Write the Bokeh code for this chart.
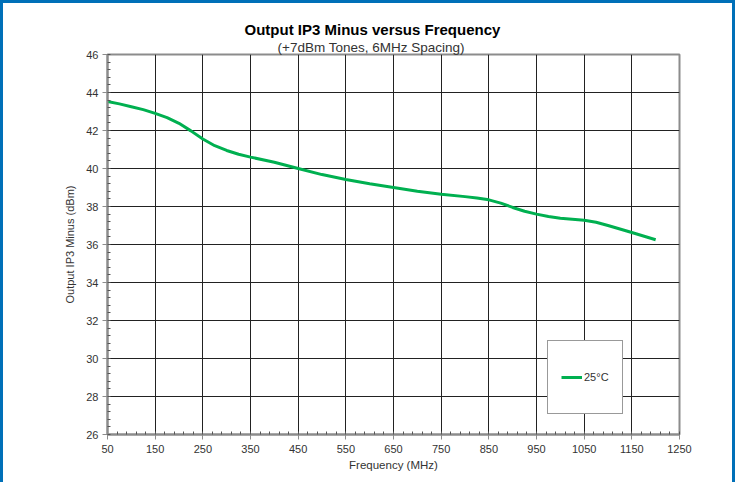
from bokeh.plotting import figure
from bokeh.models import FixedTicker, Legend, LegendItem, Range1d, Title
from bokeh.embed import file_html
from bokeh.resources import INLINE

# ---- data ----
freq_mhz = [50, 75, 100, 125, 150, 175, 200, 225, 250, 275, 300, 325, 350,
            400, 450, 500, 550, 600, 650, 700, 750, 800, 825, 850, 875, 900,
            925, 950, 975, 1000, 1025, 1050, 1075, 1100, 1150, 1200]
oip3_25c = [43.53, 43.4, 43.25, 43.1, 42.9, 42.68, 42.38, 41.98, 41.55, 41.2,
            40.95, 40.75, 40.6, 40.33, 40.0, 39.68, 39.42, 39.2, 39.0, 38.8,
            38.65, 38.52, 38.45, 38.35, 38.18, 37.95, 37.75, 37.6, 37.47, 37.38,
            37.33, 37.28, 37.17, 37.0, 36.63, 36.25]
x_ticks = [50, 150, 250, 350, 450, 550, 650, 750, 850, 950, 1050, 1150, 1250]
y_ticks = [26, 28, 30, 32, 34, 36, 38, 40, 42, 44, 46]
series_label = "25°C"
title_text = "Output IP3 Minus versus Frequency"
subtitle_text = "(+7dBm Tones, 6MHz Spacing)"
x_label = "Frequency (MHz)"
y_label = "Output IP3 Minus (dBm)"

FONT = "Liberation Sans"
W, H = 735, 482
ML, MT = 104, 51
MR = W + 3 - 679
MB = H + 3 - 434

p = figure(width=W, height=H, output_backend="svg", toolbar_location=None,
           x_range=Range1d(50, 1250), y_range=Range1d(26, 46),
           min_border_left=ML, min_border_right=MR,
           min_border_top=MT, min_border_bottom=MB)
p.styles = {"border-left": "3px solid #0070b8", "border-right": "3px solid #0070b8",
            "border-top": "3px solid #0070b8"}

p.outline_line_color = "#8c8c8c"
p.outline_line_width = 2

x_minor = [50 + 20 * i for i in range(61)]
y_minor = [26 + 0.4 * i for i in range(51)]
p.xaxis.ticker = FixedTicker(ticks=x_ticks, minor_ticks=x_minor)
p.yaxis.ticker = FixedTicker(ticks=y_ticks, minor_ticks=y_minor)

for ax in (p.xaxis[0], p.yaxis[0]):
    ax.axis_line_color = "#8c8c8c"
    ax.axis_line_width = 2
    ax.major_tick_line_color = "#8c8c8c"
    ax.major_tick_line_width = 1
    ax.major_tick_out = 5
    ax.major_tick_in = 0
    ax.minor_tick_line_color = "#555555"
    ax.minor_tick_in = 3
    ax.minor_tick_out = 0
    ax.major_label_text_font = FONT
    ax.major_label_text_font_size = "11px"
    ax.major_label_text_color = "#333333"
    ax.axis_label_text_font = FONT
    ax.axis_label_text_font_style = "normal"
    ax.axis_label_text_color = "#333333"

p.xaxis.axis_label = x_label
p.yaxis.axis_label = y_label
p.xaxis.axis_label_text_font_size = "11.5px"
p.yaxis.axis_label_text_font_size = "11px"
p.xaxis.major_label_standoff = 5
p.yaxis.major_label_standoff = 4
p.xaxis.axis_label_standoff = 3
p.yaxis.axis_label_standoff = 7

p.grid.grid_line_color = "#222222"
p.grid.grid_line_width = 1
p.grid.grid_line_alpha = 1

r = p.line(freq_mhz, oip3_25c, line_color="#00b050", line_width=3)

legend = Legend(items=[LegendItem(label=series_label, renderers=[r])],
                location=(440, 20), padding=13, label_standoff=2,
                glyph_width=21, label_height=46, glyph_height=46,
                label_text_font=FONT, label_text_font_size="11px",
                label_text_color="#333333",
                border_line_color="#333333", border_line_width=1,
                background_fill_color="white", background_fill_alpha=1,
                margin=0)
p.add_layout(legend, "center")

# invisible spacer right above the frame, then subtitle, then main title
p.add_layout(Title(text=".", text_font_size="1px", text_alpha=0, standoff=5), "above")
p.add_layout(Title(text=subtitle_text, align="left", offset=170,
                   text_font=FONT, text_font_size="13.5px", text_font_style="normal",
                   text_color="#333333", standoff=0), "above")
p.add_layout(Title(text=title_text, align="left", offset=137,
                   text_font=FONT, text_font_size="15px", text_font_style="bold",
                   text_color="#000000", standoff=0), "above")

open("out.html", "w").write(file_html(p, INLINE))
